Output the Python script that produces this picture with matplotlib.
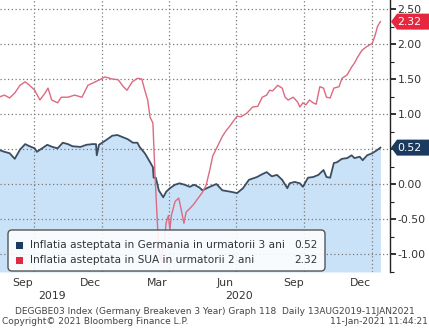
import matplotlib
matplotlib.use("Agg")
import matplotlib.pyplot as plt
import matplotlib.transforms as mtransforms
from matplotlib.patches import FancyBboxPatch, Polygon, Rectangle
import pandas as pd

# Germany breakeven 3Y
de_dates = ["2019-08-13", "2019-08-21", "2019-08-28", "2019-09-04", "2019-09-11", "2019-09-18",
            "2019-09-24", "2019-10-01", "2019-10-04", "2019-10-11", "2019-10-18", "2019-10-25",
            "2019-11-01", "2019-11-08", "2019-11-15", "2019-11-21", "2019-12-02", "2019-12-10",
            "2019-12-18", "2019-12-23", "2019-12-24", "2019-12-27", "2020-01-06", "2020-01-14",
            "2020-01-21", "2020-01-28", "2020-02-04", "2020-02-11", "2020-02-17", "2020-02-20",
            "2020-02-27", "2020-03-02", "2020-03-09", "2020-03-10", "2020-03-13", "2020-03-17",
            "2020-03-23", "2020-03-27", "2020-04-01", "2020-04-08", "2020-04-14", "2020-04-21",
            "2020-04-28", "2020-05-04", "2020-05-11", "2020-05-15", "2020-05-25", "2020-06-03",
            "2020-06-11", "2020-06-22", "2020-07-01", "2020-07-09", "2020-07-17", "2020-07-28",
            "2020-08-04", "2020-08-10", "2020-08-17", "2020-08-24", "2020-08-31", "2020-09-07",
            "2020-09-10", "2020-09-17", "2020-09-24", "2020-09-28", "2020-10-05", "2020-10-12",
            "2020-10-19", "2020-10-26", "2020-10-30", "2020-11-04", "2020-11-09", "2020-11-13",
            "2020-11-20", "2020-11-27", "2020-12-03", "2020-12-07", "2020-12-14", "2020-12-18",
            "2020-12-24", "2020-12-31", "2021-01-06", "2021-01-11"]
de_values = [0.49, 0.46, 0.44, 0.36, 0.49, 0.57,
             0.54, 0.51, 0.46, 0.51, 0.56, 0.53,
             0.51, 0.59, 0.57, 0.54, 0.53, 0.56,
             0.57, 0.57, 0.41, 0.56, 0.63, 0.69,
             0.70, 0.67, 0.64, 0.59, 0.59, 0.53,
             0.44, 0.37, 0.24, 0.09, 0.09, -0.09,
             -0.19, -0.11, -0.06, -0.01, 0.01, -0.01,
             -0.04, -0.01, -0.05, -0.09, -0.04, 0.00,
             -0.09, -0.11, -0.13, -0.06, 0.06, 0.10,
             0.14, 0.17, 0.11, 0.13, 0.06, -0.06,
             0.01, 0.03, 0.01, -0.04, 0.09, 0.10,
             0.13, 0.20, 0.10, 0.09, 0.30, 0.31,
             0.36, 0.37, 0.41, 0.37, 0.39, 0.34,
             0.41, 0.44, 0.48, 0.52]

# US breakeven 2Y
us_dates = ["2019-08-13", "2019-08-21", "2019-08-28", "2019-09-04", "2019-09-11", "2019-09-18",
            "2019-09-24", "2019-10-01", "2019-10-08", "2019-10-15", "2019-10-19", "2019-10-24",
            "2019-11-01", "2019-11-06", "2019-11-15", "2019-11-24", "2019-12-04", "2019-12-12",
            "2019-12-22", "2019-12-28", "2020-01-04", "2020-01-14", "2020-01-22", "2020-01-29",
            "2020-02-03", "2020-02-10", "2020-02-17", "2020-02-23", "2020-02-27", "2020-03-02",
            "2020-03-05", "2020-03-09", "2020-03-12", "2020-03-16", "2020-03-19", "2020-03-20",
            "2020-03-24", "2020-03-27", "2020-03-30", "2020-04-01", "2020-04-03", "2020-04-08",
            "2020-04-13", "2020-04-16", "2020-04-20", "2020-04-23", "2020-04-28", "2020-05-04",
            "2020-05-08", "2020-05-15", "2020-05-20", "2020-05-25", "2020-05-29", "2020-06-05",
            "2020-06-11", "2020-06-16", "2020-06-22", "2020-06-26", "2020-07-01", "2020-07-06",
            "2020-07-14", "2020-07-22", "2020-07-29", "2020-08-04", "2020-08-10", "2020-08-14",
            "2020-08-18", "2020-08-25", "2020-08-31", "2020-09-04", "2020-09-08", "2020-09-15",
            "2020-09-21", "2020-09-24", "2020-09-28", "2020-10-02", "2020-10-07", "2020-10-12",
            "2020-10-16", "2020-10-21", "2020-10-26", "2020-10-30", "2020-11-04", "2020-11-09",
            "2020-11-16", "2020-11-20", "2020-11-27", "2020-12-03", "2020-12-07", "2020-12-11",
            "2020-12-17", "2020-12-23", "2020-12-31", "2021-01-04", "2021-01-07", "2021-01-11"]
us_values = [1.24, 1.27, 1.23, 1.30, 1.41, 1.46,
             1.41, 1.34, 1.20, 1.30, 1.37, 1.20,
             1.16, 1.24, 1.24, 1.27, 1.24, 1.41,
             1.46, 1.49, 1.53, 1.50, 1.49, 1.39,
             1.34, 1.46, 1.51, 1.50, 1.34, 1.20,
             0.96, 0.87, 0.10, -0.75, -1.05, -1.10,
             -0.85, -0.55, -0.45, -0.65, -0.45, -0.25,
             -0.20, -0.35, -0.56, -0.40, -0.35, -0.28,
             -0.22, -0.12, -0.02, 0.20, 0.40, 0.55,
             0.68, 0.76, 0.84, 0.90, 0.97, 0.96,
             1.01, 1.10, 1.11, 1.24, 1.27, 1.34,
             1.33, 1.41, 1.37, 1.24, 1.20, 1.24,
             1.17, 1.10, 1.16, 1.13, 1.20, 1.16,
             1.14, 1.39, 1.37, 1.24, 1.23, 1.37,
             1.39, 1.51, 1.56, 1.67, 1.73, 1.81,
             1.91, 1.96, 2.01, 2.13, 2.25, 2.32]

tick_dates = ["2019-09-15", "2019-12-15", "2020-03-15", "2020-06-15", "2020-09-15", "2020-12-15"]
tick_labels = ["Sep", "Dec", "Mar", "Jun", "Sep", "Dec"]
grid_dates = ["2019-09-30", "2019-12-31", "2020-03-31", "2020-06-30", "2020-09-30", "2020-12-31"]
year_dates = ["2019-10-24", "2020-07-03"]
year_labels = ["2019", "2020"]

de_label = "Inflatia asteptata in Germania in urmatorii 3 ani"
us_label = "Inflatia asteptata in SUA in urmatorii 2 ani"

DE_LINE = "#3b4d61"
DE_FILL = "#cae2f8"
DE_TAG = "#1b3a5e"
US_LINE = "#dc6a80"
US_TAG = "#e5283f"
TXT = "#333333"

W, H = 429, 329
fig = plt.figure(figsize=(W / 100, H / 100), dpi=100)
ax = fig.add_axes([0, 57 / H, 390 / W, 272 / H])

de_x = pd.to_datetime(de_dates)
us_x = pd.to_datetime(us_dates)
ymin, ymax = -1.257, 2.629

ax.fill_between(de_x, de_values, ymin, color=DE_FILL, lw=0, zorder=1)
ax.plot(de_x, de_values, color=DE_LINE, lw=1.3, zorder=3)
ax.plot(us_x, us_values, color=US_LINE, lw=1.0, zorder=4)

ax.set_xlim(pd.Timestamp("2019-08-15"), pd.Timestamp("2021-01-24"))
ax.set_ylim(ymin, ymax)

# grid: horizontal every 0.5, vertical on quarter ends
dots = (0, (1, 2))
yt = [-1.0, -0.5, 0.0, 0.5, 1.0, 1.5, 2.0, 2.5]
for v in yt:
    ax.axhline(v, color="#7a7a7a", lw=0.9, ls=dots, zorder=2)
for d in grid_dates:
    ax.axvline(pd.Timestamp(d), color="#7a7a7a", lw=0.9, ls=dots, zorder=2)

for side in ["left", "top", "bottom"]:
    ax.spines[side].set_visible(False)
ax.spines["right"].set_color("#222222")
ax.spines["right"].set_linewidth(1.0)

# 0.50 sits under the last-value tag of the blue series
ax.yaxis.tick_right()
ax.set_yticks(yt)
ax.set_yticklabels(["" if v == 0.5 else f"{v:.2f}" for v in yt])
ax.set_yticks([-1.25, -0.75, -0.25, 0.25, 0.75, 1.25, 1.75, 2.25], minor=True)
ax.tick_params(axis="y", which="major", direction="out", length=4, width=1.3,
               color="#222222", labelsize=7.8, labelcolor=TXT, pad=1.5)
ax.tick_params(axis="y", which="minor", direction="out", length=3, width=0.8, color="#222222")

ax.set_xticks(pd.to_datetime(tick_dates))
ax.set_xticklabels(tick_labels)
ax.tick_params(axis="x", length=0, labelsize=7.8, labelcolor=TXT, pad=4)

yr = mtransforms.blended_transform_factory(ax.transData, fig.transFigure)
for d, lab in zip(year_dates, year_labels):
    ax.text(pd.Timestamp(d), 1 - 296 / H, lab, transform=yr, ha="center", va="center",
            fontsize=7.8, color=TXT, clip_on=False)

# value tags on the right axis
px = mtransforms.IdentityTransform()
tag_tf = mtransforms.blended_transform_factory(px, ax.transData)
half = 8 / 70
for v, col in [(us_values[-1], US_TAG), (de_values[-1], DE_TAG)]:
    poly = Polygon([(391, v), (397, v + half), (440, v + half), (440, v - half), (397, v - half)],
                   closed=True, facecolor=col, edgecolor="none", transform=tag_tf, clip_on=False,
                   zorder=10)
    fig.add_artist(poly)
    fig.text(397, v, f"{v:.2f}", transform=tag_tf, ha="left", va="center", fontsize=7.8,
             color="white", zorder=11)

# legend box
box = FancyBboxPatch((8, H - 271), 317, 41, boxstyle="round,pad=0,rounding_size=4",
                     facecolor="white", alpha=0.88, edgecolor="none", transform=px)
fig.add_artist(box)
box_edge = FancyBboxPatch((8, H - 271), 317, 41, boxstyle="round,pad=0,rounding_size=4",
                          facecolor="none", edgecolor="#555555", lw=1.0, transform=px)
fig.add_artist(box_edge)
for row_y, col, lab, val in [(245, DE_TAG, de_label, de_values[-1]),
                             (260, US_TAG, us_label, us_values[-1])]:
    fig.add_artist(Rectangle((16, H - row_y - 3.5), 7, 7, facecolor=col, edgecolor="none",
                             transform=px))
    fig.text(30, H - row_y, lab, transform=px, ha="left", va="center", fontsize=7.6, color=TXT)
    fig.text(318, H - row_y, f"{val:.2f}", transform=px, ha="right", va="center", fontsize=7.6,
             color=TXT)

# footer
fig.text(15, H - 311, "DEGGBE03 Index (Germany Breakeven 3 Year) Graph 118  Daily 13AUG2019-11JAN2021",
         transform=px, ha="left", va="center", fontsize=6.45, color="#444444")
fig.text(2, H - 322, "Copyright\u00a9 2021 Bloomberg Finance L.P.", transform=px, ha="left",
         va="center", fontsize=6.45, color="#444444")
fig.text(428, H - 322, "11-Jan-2021 11:44:21", transform=px, ha="right", va="center",
         fontsize=6.45, color="#444444")

fig.savefig("out.png", dpi=100)
